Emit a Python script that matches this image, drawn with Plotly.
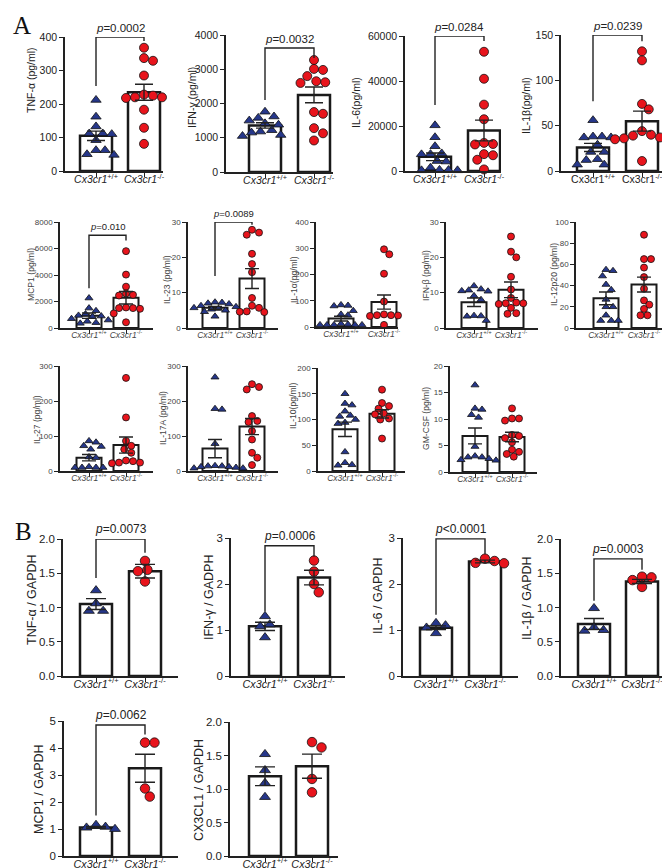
import plotly.graph_objects as go

W, H = 670, 868

# ---------------- DATA ----------------
groups = ["Cx3cr1+/+", "Cx3cr1-/-"]

# Panel A, row 1
tnfa_wt = [212, 162, 133, 112, 110, 112, 92, 62, 62, 48, 50]
tnfa_ko = [368, 337, 329, 285, 228, 220, 218, 220, 225, 183, 129, 81]
tnfa_mean = [105, 235]
tnfa_sem = [14, 24]

ifng_wt = [1760, 1620, 1580, 1500, 1420, 1380, 1220, 1180, 1150, 1080, 1050]
ifng_ko = [3270, 3010, 2980, 2800, 2650, 2620, 2600, 1750, 1700, 1280, 1130, 920]
ifng_mean = [1360, 2250]
ifng_sem = [80, 230]

il6_wt = [20300, 15000, 11000, 7800, 7500, 7400, 4400, 4200, 1500, 500, 300, 300, 400]
il6_ko = [53000, 41000, 29500, 23000, 12500, 11800, 12000, 10000, 7500, 7000, 5000, 700]
il6_mean = [6300, 18000]
il6_sem = [1700, 4600]

il1b_wt = [56, 38, 38, 37, 37, 29, 21, 21, 13, 12, 7, 7]
il1b_ko = [132, 122, 74, 68, 44, 40, 39, 37, 36, 36, 35, 11]
il1b_mean = [26, 55]
il1b_sem = [4.5, 11]

# Panel A, row 2
mcp1_wt = [2260, 1500, 1300, 1050, 950, 900, 850, 700, 600, 500, 400, 350]
mcp1_ko = [5800, 4030, 3120, 2600, 2500, 2450, 1550, 1500, 1500, 1450, 1100, 430]
mcp1_mean = [930, 2280]
mcp1_sem = [200, 470]

il23_wt = [7.3, 7.2, 7.0, 6.8, 6.3, 6.0, 5.7, 5.5, 5.3, 5.0, 4.6, 3.3]
il23_ko = [27.8, 27.0, 26.4, 21.0, 18.1, 15.8, 8.5, 6.3, 5.7, 4.6, 4.5, 4.7]
il23_mean = [5.7, 14.0]
il23_sem = [0.4, 2.8]

il1a_wt = [84, 82, 80, 62, 48, 45, 12, 10, 8, 8, 8, 8, 8]
il1a_ko = [296, 277, 203, 97, 48, 45, 44, 42, 40, 45, 8]
il1a_mean = [32, 95]
il1a_sem = [9, 27]

ifnb_wt = [11.9, 11.0, 10.7, 10.5, 10.4, 9.1, 8.0, 3.5, 3.4, 3.3, 2.1]
ifnb_ko = [25.9, 21.6, 20.0, 14.5, 10.9, 8.5, 7.2, 7.0, 7.0, 6.8, 5.7, 4.2, 4.0]
ifnb_mean = [7.3, 10.8]
ifnb_sem = [1.2, 2.2]

il12_wt = [55, 54, 49, 41, 36, 27, 20, 20, 12, 7, 7, 7]
il12_ko = [88, 65, 65, 57, 48, 37, 26, 22, 18, 12, 12]
il12_mean = [28, 41]
il12_sem = [6, 7]

# Panel A, row 3
il27_wt = [86, 82, 72, 70, 62, 40, 38, 12, 10, 10, 10, 10]
il27_ko = [266, 153, 86, 72, 62, 52, 30, 28, 24, 24, 22]
il27_mean = [38, 74]
il27_sem = [9, 23]

il17_wt = [268, 178, 176, 78, 15, 14, 14, 12, 12, 10, 8, 8]
il17_ko = [248, 240, 233, 157, 143, 140, 114, 90, 52, 38, 17]
il17_mean = [64, 127]
il17_sem = [26, 23]

il10_wt = [150, 131, 128, 116, 108, 106, 100, 94, 92, 37, 16, 12, 11]
il10_ko = [158, 132, 126, 121, 112, 110, 102, 100, 63]
il10_mean = [81, 111]
il10_sem = [14, 8]

gmcsf_wt = [16.4, 12.0, 11.8, 10.8, 10.3, 4.8, 3.0, 2.8, 2.8, 2.5, 2.3, 2.2]
gmcsf_ko = [12.0, 10.1, 10.1, 9.7, 7.0, 6.4, 5.6, 4.2, 3.8, 3.4, 2.9, 6.8]
gmcsf_mean = [6.8, 6.6]
gmcsf_sem = [1.5, 0.9]

# Panel B
q_tnfa_wt = [1.25, 1.06, 0.95, 0.95]
q_tnfa_ko = [1.68, 1.55, 1.53, 1.38]
q_tnfa_mean = [1.05, 1.53]
q_tnfa_sem = [0.08, 0.1]

q_ifng_wt = [1.30, 1.12, 1.08, 0.84]
q_ifng_ko = [2.51, 2.27, 2.00, 1.82]
q_ifng_mean = [1.08, 2.14]
q_ifng_sem = [0.09, 0.16]

q_il6_wt = [1.15, 1.10, 1.05, 0.93]
q_il6_ko = [2.55, 2.50, 2.46, 2.45]
q_il6_mean = [1.05, 2.49]
q_il6_sem = [0.04, 0.03]

q_il1b_wt = [0.99, 0.71, 0.67, 0.66]
q_il1b_ko = [1.45, 1.44, 1.40, 1.30]
q_il1b_mean = [0.76, 1.38]
q_il1b_sem = [0.08, 0.03]

q_mcp1_wt = [1.15, 1.08, 1.05, 1.00]
q_mcp1_ko = [4.2, 4.2, 2.5, 2.2]
q_mcp1_mean = [1.06, 3.25]
q_mcp1_sem = [0.03, 0.52]

q_cx3cl1_wt = [1.52, 1.28, 1.09, 0.88]
q_cx3cl1_ko = [1.70, 1.62, 1.15, 0.95]
q_cx3cl1_mean = [1.19, 1.34]
q_cx3cl1_sem = [0.14, 0.18]

# p-values and brackets: [left leg end, bracket top, right leg end]
p_tnfa, br_tnfa = "=0.0002", [254, 400, 388]
p_ifng, br_ifng = "=0.0032", [2100, 3620, 3330]
p_il6, br_il6 = "=0.0284", [29300, 60000, 57800]
p_il1b, br_il1b = "=0.0239", [77, 150, 143]
p_mcp1, br_mcp1 = "=0.010", [3000, 7000, 6600]
p_il23, br_il23 = "=0.0089", [14.7, 30, 29.2]
p_qtnfa, br_qtnfa = "=0.0073", [1.43, 2.0, 1.8]
p_qifng, br_qifng = "=0.0006", [1.4, 2.83, 2.6]
p_qil6, br_qil6 = "<0.0001", [1.33, 2.98, 2.65]
p_qil1b, br_qil1b = "=0.0003", [1.1, 1.71, 1.55]
p_qmcp1, br_qmcp1 = "=0.0062", [1.5, 4.85, 4.5]

# ---------------- PANEL SPECS (layout) ----------------
def P(wt, ko, mean, sem, ymax, dt, fmt, title, box, bars, tpos, style, p=None, br=None, italic=True):
    return dict(wt=wt, ko=ko, mean=mean, sem=sem, ymax=ymax, dt=dt, fmt=fmt, title=title,
                box=box, bars=bars, tpos=tpos, style=style, p=p, br=br, italic=italic)

panels = [
    P(tnfa_wt, tnfa_ko, tnfa_mean, tnfa_sem, 400, 100, "d", "TNF-α (pg/ml)", (57, 155, 29, 163), (88, 136), (23, 72), "big", p_tnfa, br_tnfa),
    P(ifng_wt, ifng_ko, ifng_mean, ifng_sem, 4000, 1000, "d", "IFN-γ (pg/ml)", (218, 325, 27, 164), (257, 306), (184, 90), "big", p_ifng, br_ifng),
    P(il6_wt, il6_ko, il6_mean, il6_sem, 60000, 20000, "d", "IL-6(pg/ml)", (397, 493, 28, 163), (427, 476), (348, 95), "big", p_il6, br_il6),
    P(il1b_wt, il1b_ko, il1b_mean, il1b_sem, 150, 50, "d", "IL-1β(pg/ml)", (553, 655, 27, 163), (585, 634), (518, 98), "big", p_il1b, br_il1b, italic=False),

    P(mcp1_wt, mcp1_ko, mcp1_mean, mcp1_sem, 8000, 2000, "d", "MCP1 (pg/ml)", (52, 145, 214, 320), (81, 118), (23, 267), "small", p_mcp1, br_mcp1),
    P(il23_wt, il23_ko, il23_mean, il23_sem, 30, 10, "d", "IL-23 (pg/ml)", (180, 270, 214, 320), (207, 244), (159, 272), "small", p_il23, br_il23),
    P(il1a_wt, il1a_ko, il1a_mean, il1a_sem, 400, 100, "d", "IL-1α(pg/ml)", (308, 390, 214, 319), (333, 376), (286, 272), "small"),
    P(ifnb_wt, ifnb_ko, ifnb_mean, ifnb_sem, 30, 10, "d", "IFN-β (pg/ml)", (438, 530, 214, 320), (466, 503), (418, 268), "small"),
    P(il12_wt, il12_ko, il12_mean, il12_sem, 100, 20, "d", "IL-12p20 (pg/ml)", (568, 660, 214, 320), (598, 636), (546, 267), "small"),

    P(il27_wt, il27_ko, il27_mean, il27_sem, 300, 100, "d", "IL-27 (pg/ml)", (52, 145, 358, 463), (81, 118), (29, 412), "small"),
    P(il17_wt, il17_ko, il17_mean, il17_sem, 300, 100, "d", "IL-17A (pg/ml)", (180, 270, 358, 463), (207, 244), (155, 410), "small"),
    P(il10_wt, il10_ko, il10_mean, il10_sem, 200, 50, "d", "IL-10(pg/ml)", (310, 397, 360, 463), (337, 374), (285, 398), "small"),
    P(gmcsf_wt, gmcsf_ko, gmcsf_mean, gmcsf_sem, 20, 5, "d", "GM-CSF (pg/ml)", (442, 529, 358, 464), (467, 504), (418, 411), "small"),

    P(q_tnfa_wt, q_tnfa_ko, q_tnfa_mean, q_tnfa_sem, 2.0, 0.5, ".1f", "TNF-α / GAPDH", (55, 170, 531, 668), (88, 137), (24, 592), "bigB", p_qtnfa, br_qtnfa),
    P(q_ifng_wt, q_ifng_ko, q_ifng_mean, q_ifng_sem, 3, 1, "d", "IFN-γ / GADPH", (223, 337, 530, 668), (257, 306), (201, 590), "bigB", p_qifng, br_qifng),
    P(q_il6_wt, q_il6_ko, q_il6_mean, q_il6_sem, 3, 1, "d", "IL-6 / GAPDH", (395, 510, 530, 668), (428, 477), (370, 588), "bigB", p_qil6, br_qil6),
    P(q_il1b_wt, q_il1b_ko, q_il1b_mean, q_il1b_sem, 2.0, 0.5, ".1f", "IL-1β / GAPDH", (553, 667, 531, 668), (586, 634), (519, 590), "bigB", p_qil1b, br_qil1b),

    P(q_mcp1_wt, q_mcp1_ko, q_mcp1_mean, q_mcp1_sem, 5, 1, "d", "MCP1 / GAPDH", (56, 170, 713, 848), (88, 137), (31, 781), "bigB", p_qmcp1, br_qmcp1),
    P(q_cx3cl1_wt, q_cx3cl1_ko, q_cx3cl1_mean, q_cx3cl1_sem, 2.0, 0.5, ".1f", "CX3CL1 / GAPDH", (222, 330, 714, 848), (257, 304), (191, 782), "bigB"),
]

STYLES = {
    "big": dict(tick=10.5, title=10.5, cat=10.5, ms=9, bw=2.5, cap=9, ink="#222", p=11.5, bar=32, sd=-6),
    "bigB": dict(tick=11.5, title=12.5, cat=10.8, ms=9.5, bw=2.5, cap=10, ink="#222", p=12, bar=32, sd=-7),
    "small": dict(tick=8, title=8.6, cat=8.5, ms=7, bw=2, cap=7, ink="#444", p=9.5, bar=25, sd=-6),
}
FONT = "Liberation Sans, Arial, sans-serif"
NAVY = "#26378a"
RED = "#e8141c"


def swarm(vals, ppy, ppx, diam):
    placed = []
    offs = [0.0] * len(vals)
    order = sorted(range(len(vals)), key=lambda i: -vals[i])
    step = diam / 4.0
    cands = [0.0]
    for j in range(1, 80):
        cands += [j * step, -j * step]
    for i in order:
        yp = vals[i] * ppy
        chosen = 0.0
        for c in cands:
            if all((c - px) ** 2 + (yp - py) ** 2 >= (diam * 0.95) ** 2 for px, py in placed):
                chosen = c
                break
        placed.append((chosen, yp))
        offs[i] = chosen / ppx
    return offs


fig = go.Figure()
layout = dict(width=W, height=H, margin=dict(l=0, r=0, t=0, b=0), autosize=False,
              paper_bgcolor="white", plot_bgcolor="rgba(0,0,0,0)", showlegend=False,
              font=dict(family=FONT, color="#222"))
annotations = []

for n, pn in enumerate(panels, start=1):
    st = STYLES[pn["style"]]
    xa = "x" if n == 1 else f"x{n}"
    ya = "y" if n == 1 else f"y{n}"
    x0, x1, yt, yb = pn["box"]
    b1, b2 = pn["bars"]
    spacing = b2 - b1
    xr = [(x0 - b1) / spacing, 1 + (x1 - b2) / spacing]
    ppy = (yb - yt) / pn["ymax"]
    ppx = spacing
    barw = st["bar"] / spacing

    fig.add_trace(go.Bar(x=[0, 1], y=pn["mean"], width=barw, xaxis=xa, yaxis=ya,
                         marker=dict(color="white", line=dict(color="#1a1a1a", width=st["bw"])),
                         hoverinfo="skip"))
    ow = swarm(pn["wt"], ppy, ppx, st["ms"])
    ok = swarm(pn["ko"], ppy, ppx, st["ms"])
    fig.add_trace(go.Scatter(x=[0 + o for o in ow], y=pn["wt"], mode="markers", xaxis=xa, yaxis=ya,
                             cliponaxis=False,
                             marker=dict(symbol="triangle-up", size=st["ms"], color=NAVY,
                                         line=dict(color="#111", width=0.8))))
    fig.add_trace(go.Scatter(x=[1 + o for o in ok], y=pn["ko"], mode="markers", xaxis=xa, yaxis=ya,
                             cliponaxis=False,
                             marker=dict(symbol="circle", size=st["ms"], color=RED,
                                         line=dict(color="#111", width=0.8))))
    fig.add_trace(go.Scatter(x=[0, 1], y=pn["mean"], mode="markers", xaxis=xa, yaxis=ya,
                             cliponaxis=False, marker=dict(size=1, color="rgba(0,0,0,0)"),
                             error_y=dict(type="data", array=pn["sem"], color="#222",
                                          thickness=1.4, width=st["cap"])))
    if pn["p"]:
        l, t, r = pn["br"]
        fig.add_trace(go.Scatter(x=[0, 0, 1, 1], y=[l, t, t, r], mode="lines", xaxis=xa, yaxis=ya,
                                 cliponaxis=False, line=dict(color="#222", width=1.4),
                                 hoverinfo="skip"))
        ptxt = "<i>p</i>" + pn["p"].replace("<", "&lt;")
        annotations.append(dict(x=0.5, y=t, xref=xa, yref=ya, text=ptxt,
                                showarrow=False, yanchor="bottom", yshift=1,
                                font=dict(family=FONT, size=st["p"], color="#222")))

    if pn["italic"]:
        tt = ["<i>Cx3cr1</i><sup>+/+</sup>", "<i>Cx3cr1</i><sup>-/-</sup>"]
    else:
        tt = ["Cx3cr1<sup>+/+</sup>", "Cx3cr1<sup>-/-</sup>"]

    nt = int(round(pn["ymax"] / pn["dt"]))
    tv = [pn["dt"] * k for k in range(nt + 1)]

    axcommon = dict(showline=True, linecolor="#222", linewidth=1.5, showgrid=False, zeroline=False,
                    ticks="outside", ticklen=4, tickwidth=1.3, tickcolor="#222",
                    automargin=False, fixedrange=True)
    layout["xaxis" if n == 1 else f"xaxis{n}"] = dict(
        domain=[x0 / W, x1 / W], range=xr, anchor=ya, tickvals=[0, 1], ticktext=tt,
        ticklabelstandoff=st["sd"],
        tickfont=dict(family=FONT, size=st["cat"], color=st["ink"]), **axcommon)
    layout["yaxis" if n == 1 else f"yaxis{n}"] = dict(
        domain=[1 - yb / H, 1 - yt / H], range=[0, pn["ymax"]], anchor=xa, tickvals=tv,
        tickformat=pn["fmt"], tickfont=dict(family=FONT, size=st["tick"], color=st["ink"]),
        **axcommon)
    tx, ty = pn["tpos"]
    annotations.append(dict(x=tx / W, y=1 - ty / H, xref="paper", yref="paper", text=pn["title"],
                            textangle=-90, showarrow=False, xanchor="center", yanchor="middle",
                            font=dict(family=FONT, size=st["title"], color=st["ink"])))

annotations.append(dict(x=3 / W, y=1 - 2 / H, xref="paper", yref="paper", text="A", showarrow=False,
                        xanchor="left", yanchor="top",
                        font=dict(family="Liberation Serif, Times New Roman, serif", size=25, color="#111")))
annotations.append(dict(x=5 / W, y=1 - 508 / H, xref="paper", yref="paper", text="B", showarrow=False,
                        xanchor="left", yanchor="top",
                        font=dict(family="Liberation Serif, Times New Roman, serif", size=25, color="#111")))

layout["annotations"] = annotations
fig.update_layout(**layout)
fig.write_html("out.html")
